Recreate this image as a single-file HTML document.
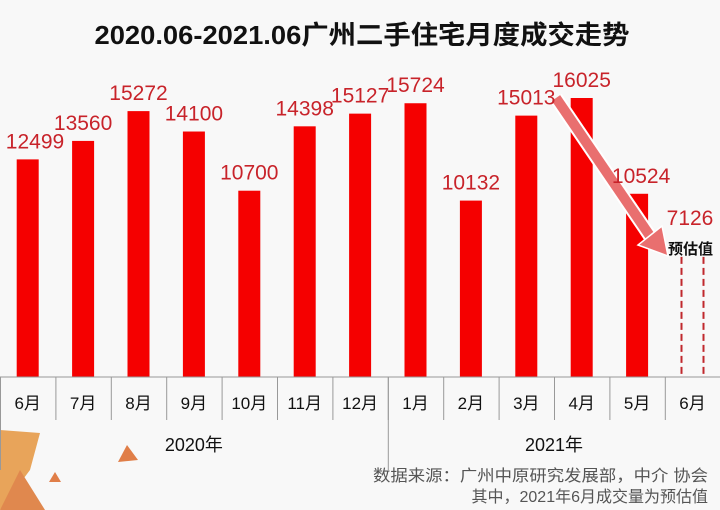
<!DOCTYPE html>
<html><head><meta charset="utf-8"><style>
body{margin:0;width:720px;height:510px;overflow:hidden;background:#f8f8f8;font-family:"Liberation Sans","Noto Sans CJK SC",sans-serif}
svg{display:block}
</style></head><body>
<svg width="720" height="510" viewBox="0 0 720 510" xmlns="http://www.w3.org/2000/svg">
<rect x="0" y="0" width="720" height="510" fill="#f8f8f8"/>
<g>
<polygon points="0,430 40,433 30,470 0,510" fill="#e8a45a"/>
<polygon points="20,470 45,510 0,510" fill="#e0884e"/>
<polygon points="127,445 138,460 118,462" fill="#e07e48"/>
<polygon points="55,472 61,482 49,482" fill="#e07e48"/>
</g>
<text x="362" y="44" text-anchor="middle" font-size="26" font-weight="bold" fill="#111" textLength="535" lengthAdjust="spacingAndGlyphs">2020.06-2021.06广州二手住宅月度成交走势</text>
<g id="bars"></g>
<g>
<line x1="556" y1="98" x2="650" y2="236" stroke="#fff" stroke-width="14"/>
<line x1="556" y1="98" x2="650" y2="236" stroke="#e96f6f" stroke-width="10"/>
<polygon points="638,245 668,256 662,226" fill="#e96f6f" stroke="#fff" stroke-width="1.5"/>
</g>
<g id="labels"></g>
<g id="axis"></g>
<text x="668" y="254" font-size="15" font-weight="bold" fill="#111">预估值</text>
<text x="708" y="481" text-anchor="end" font-size="16" fill="#555" textLength="335" lengthAdjust="spacingAndGlyphs">数据来源：广州中原研究发展部，中介  协会</text>
<text x="708" y="502" text-anchor="end" font-size="16" fill="#555">其中，2021年6月成交量为预估值</text>
</svg>
<script>
const categories=["6月","7月","8月","9月","10月","11月","12月","1月","2月","3月","4月","5月","6月"];
const values=[12499,13560,15272,14100,10700,14398,15127,15724,10132,15013,16025,10524,7126];
const valueLabels=["12499","13560","15272","14100","10700","14398","15127","15724","10132","15013","16025","10524","7126"];
const years=["2020年","2021年"];
const yearSpans=[7,6];
const NS="http://www.w3.org/2000/svg";
const base=377,colW=55.4,bw=22,maxV=16025,topY=98;
const y=v=>base-(v/maxV)*(base-topY);
const xc=i=>colW*i+colW/2;
function mk(t,a,p){const e=document.createElementNS(NS,t);for(const k in a)e.setAttribute(k,a[k]);p.appendChild(e);return e;}
const bars=document.getElementById('bars'),labels=document.getElementById('labels'),axis=document.getElementById('axis');
values.forEach((v,i)=>{
  const est=i===values.length-1;
  if(!est){
    const r=mk('rect',{x:xc(i)-bw/2,y:y(v),width:bw,height:base-y(v),fill:'#f50000'},bars);
    
    
  }else{
    const g=mk('g',{},bars);
    
    
    [xc(i)-bw/2,xc(i)+bw/2].forEach(x=>mk('line',{x1:x,y1:y(v)+4,x2:x,y2:base,stroke:'#c0282d','stroke-width':2,'stroke-dasharray':'7,4'},g));
  }
  const cx=Math.min(Math.max(xc(i),35),690);
  const t=mk('text',{x:cx+(i===11?4:0),y:y(v)-(est?28:11),'text-anchor':'middle','font-size':21,fill:'#c8232a'},labels);
  t.textContent=valueLabels[i];
  
  
});
mk('line',{x1:0,y1:base,x2:720,y2:base,stroke:'#999','stroke-width':1},axis);
categories.forEach((c,i)=>{
  const l=mk('line',{x1:colW*i+0.5,y1:base,x2:colW*i+0.5,y2:420,stroke:'#999'},axis);
  
  
  const t=mk('text',{x:xc(i),y:409,'text-anchor':'middle','font-size':17,fill:'#111'},axis);
  t.textContent=c;
  
  
});
let s=0;
years.forEach((yr,j)=>{
  const x0=colW*s,x1=colW*(s+yearSpans[j]);
  const l=mk('line',{x1:x0+0.5,y1:base,x2:x0+0.5,y2:470,stroke:'#999'},axis);
  
  
  const t=mk('text',{x:(x0+x1)/2,y:451,'text-anchor':'middle','font-size':18,fill:'#111'},axis);
  t.textContent=yr;
  
  
  s+=yearSpans[j];
});
</script>
</body></html>
